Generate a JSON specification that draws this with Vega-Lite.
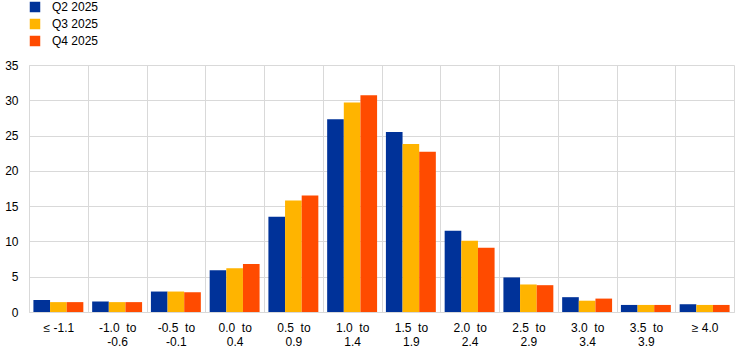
{
  "$schema": "https://vega.github.io/schema/vega-lite/v6.json",
  "width": 705,
  "height": 247,
  "autosize": {"type": "none"},
  "padding": {"left": 29, "top": 65, "right": 11, "bottom": 43},
  "config": {"font": "Liberation Sans", "view": {"stroke": null}},
  "data": {
    "values": [
      {"cat": "≤ -1.1", "q": "Q2 2025", "v": 1.7},
      {"cat": "≤ -1.1", "q": "Q3 2025", "v": 1.4},
      {"cat": "≤ -1.1", "q": "Q4 2025", "v": 1.4},
      {"cat": "-1.0 \u00a0to|-0.6", "q": "Q2 2025", "v": 1.5},
      {"cat": "-1.0 \u00a0to|-0.6", "q": "Q3 2025", "v": 1.4},
      {"cat": "-1.0 \u00a0to|-0.6", "q": "Q4 2025", "v": 1.4},
      {"cat": "-0.5 \u00a0to|-0.1", "q": "Q2 2025", "v": 2.9},
      {"cat": "-0.5 \u00a0to|-0.1", "q": "Q3 2025", "v": 2.9},
      {"cat": "-0.5 \u00a0to|-0.1", "q": "Q4 2025", "v": 2.8},
      {"cat": "0.0 \u00a0to|0.4", "q": "Q2 2025", "v": 5.9},
      {"cat": "0.0 \u00a0to|0.4", "q": "Q3 2025", "v": 6.2},
      {"cat": "0.0 \u00a0to|0.4", "q": "Q4 2025", "v": 6.8},
      {"cat": "0.5 \u00a0to|0.9", "q": "Q2 2025", "v": 13.5},
      {"cat": "0.5 \u00a0to|0.9", "q": "Q3 2025", "v": 15.8},
      {"cat": "0.5 \u00a0to|0.9", "q": "Q4 2025", "v": 16.5},
      {"cat": "1.0 \u00a0to|1.4", "q": "Q2 2025", "v": 27.3},
      {"cat": "1.0 \u00a0to|1.4", "q": "Q3 2025", "v": 29.7},
      {"cat": "1.0 \u00a0to|1.4", "q": "Q4 2025", "v": 30.7},
      {"cat": "1.5 \u00a0to|1.9", "q": "Q2 2025", "v": 25.5},
      {"cat": "1.5 \u00a0to|1.9", "q": "Q3 2025", "v": 23.8},
      {"cat": "1.5 \u00a0to|1.9", "q": "Q4 2025", "v": 22.7},
      {"cat": "2.0 \u00a0to|2.4", "q": "Q2 2025", "v": 11.5},
      {"cat": "2.0 \u00a0to|2.4", "q": "Q3 2025", "v": 10.1},
      {"cat": "2.0 \u00a0to|2.4", "q": "Q4 2025", "v": 9.1},
      {"cat": "2.5 \u00a0to|2.9", "q": "Q2 2025", "v": 4.9},
      {"cat": "2.5 \u00a0to|2.9", "q": "Q3 2025", "v": 3.9},
      {"cat": "2.5 \u00a0to|2.9", "q": "Q4 2025", "v": 3.8},
      {"cat": "3.0 \u00a0to|3.4", "q": "Q2 2025", "v": 2.1},
      {"cat": "3.0 \u00a0to|3.4", "q": "Q3 2025", "v": 1.6},
      {"cat": "3.0 \u00a0to|3.4", "q": "Q4 2025", "v": 1.9},
      {"cat": "3.5 \u00a0to|3.9", "q": "Q2 2025", "v": 1.0},
      {"cat": "3.5 \u00a0to|3.9", "q": "Q3 2025", "v": 1.0},
      {"cat": "3.5 \u00a0to|3.9", "q": "Q4 2025", "v": 1.0},
      {"cat": "≥ 4.0", "q": "Q2 2025", "v": 1.1},
      {"cat": "≥ 4.0", "q": "Q3 2025", "v": 1.0},
      {"cat": "≥ 4.0", "q": "Q4 2025", "v": 1.0}
    ]
  },
  "mark": {"type": "bar"},
  "encoding": {
    "x": {
      "field": "cat",
      "type": "nominal",
      "sort": ["≤ -1.1", "-1.0 \u00a0to|-0.6", "-0.5 \u00a0to|-0.1", "0.0 \u00a0to|0.4", "0.5 \u00a0to|0.9", "1.0 \u00a0to|1.4", "1.5 \u00a0to|1.9", "2.0 \u00a0to|2.4", "2.5 \u00a0to|2.9", "3.0 \u00a0to|3.4", "3.5 \u00a0to|3.9", "≥ 4.0"],
      "scale": {"paddingInner": 0, "paddingOuter": 0},
      "axis": {
        "title": null,
        "labelAngle": 0,
        "tickBand": "extent",
        "grid": true,
        "gridColor": "#d9d9d9",
        "gridWidth": 1,
        "domainColor": "#d9d9d9",
        "ticks": false,
        "labelExpr": "datum.value ? split(datum.value, '|') : ''",
        "labelFontSize": 12,
        "labelColor": "#000",
        "labelPadding": 10,
        "labelLineHeight": 14
      }
    },
    "xOffset": {
      "field": "q",
      "type": "nominal",
      "scale": {"paddingInner": 0, "paddingOuter": 0.265}
    },
    "y": {
      "field": "v",
      "type": "quantitative",
      "scale": {"domain": [0, 35], "nice": false},
      "axis": {
        "title": null,
        "values": [0, 5, 10, 15, 20, 25, 30, 35],
        "grid": true,
        "gridColor": "#d9d9d9",
        "domainColor": "#d9d9d9",
        "ticks": false,
        "labelFontSize": 12,
        "labelColor": "#000",
        "labelPadding": 11
      }
    },
    "color": {
      "field": "q",
      "type": "nominal",
      "scale": {"domain": ["Q2 2025", "Q3 2025", "Q4 2025"], "range": ["#003299", "#FFB400", "#FF4B00"]},
      "legend": {
        "title": null,
        "orient": "none",
        "legendX": 0,
        "legendY": -64,
        "symbolType": "square",
        "symbolSize": 110,
        "symbolStrokeWidth": 0,
        "labelFontSize": 12,
        "labelColor": "#000",
        "labelOffset": 11,
        "rowPadding": 5
      }
    }
  }
}
